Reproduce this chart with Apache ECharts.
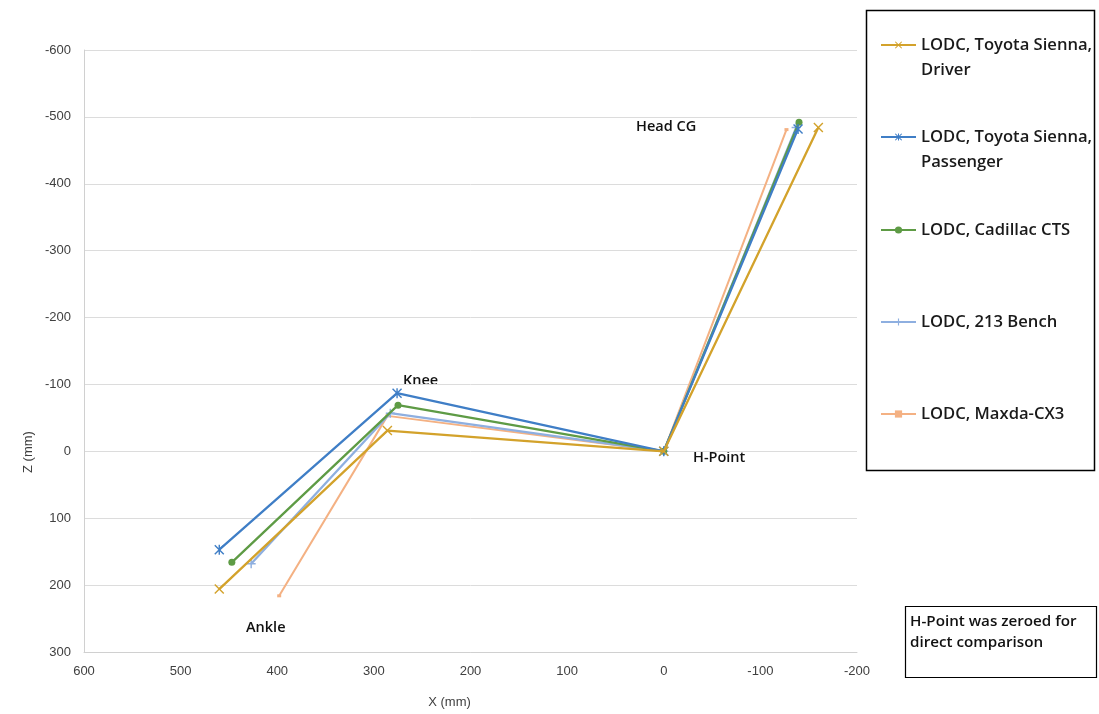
<!DOCTYPE html>
<html>
<head>
<meta charset="utf-8">
<title>LODC seating positions</title>
<script src="https://cdn.jsdelivr.net/npm/echarts@6/dist/echarts.min.js"></script>
<style>
  html, body { margin: 0; padding: 0; background: #ffffff; }
  #chart { width: 1099px; height: 714px; }
</style>
</head>
<body>
<div id="chart"></div>
<script>
// Landmark points per seat: Ankle, Knee, H-Point, Head CG — [X (mm), Z (mm)]
const driver    = [[460, 206], [286, -31], [0, 0], [-160, -484]];
const passenger = [[460, 147], [276, -87], [0, 0], [-139, -482]];
const cadillac  = [[447, 166], [275, -69], [0, 0], [-140, -492]];
const bench213  = [[427, 168], [283, -57], [0, 0], [-137, -484]];
const maxda     = [[398, 216], [286, -53], [0, 0], [-127, -481]];

const seriesNames = [
  'LODC, Toyota Sienna, Driver',
  'LODC, Toyota Sienna, Passenger',
  'LODC, Cadillac CTS',
  'LODC, 213 Bench',
  'LODC, Maxda-CX3'
];
const legendLines = [
  ['LODC, Toyota Sienna,', 'Driver'],
  ['LODC, Toyota Sienna,', 'Passenger'],
  ['LODC, Cadillac CTS'],
  ['LODC, 213 Bench'],
  ['LODC, Maxda-CX3']
];
const xTicks = { min: -200, max: 600, step: 100 };
const zTicks = { min: -600, max: 300, step: 100 };
const landmarkLabels = ['Ankle', 'Knee', 'H-Point', 'Head CG'];
const noteText = 'H-Point was zeroed for\ndirect comparison';

// Marker shapes
const X_PATH = 'path://M0,1L1,0L5,4L9,0L10,1L6,5L10,9L9,10L5,6L1,10L0,9L4,5Z';
const STAR_PATH = 'path://M0,1L1,0L5,4L9,0L10,1L6,5L10,9L9,10L5,6L1,10L0,9L4,5ZM4.3,0L5.7,0L5.7,10L4.3,10Z';
const PLUS_PATH = 'path://M4.2,0L5.8,0L5.8,4.2L10,4.2L10,5.8L5.8,5.8L5.8,10L4.2,10L4.2,5.8L0,5.8L0,4.2L4.2,4.2Z';
const DASH_PATH = 'path://M0,0L10,0L10,6L0,6Z';

const colors = ['#D3A22B', '#3F7EC6', '#5E9B45', '#8EAFE0', '#F4B183'];
const datasets = [driver, passenger, cadillac, bench213, maxda];
const symbols = [X_PATH, STAR_PATH, 'circle', PLUS_PATH, DASH_PATH];
const symbolSizes = [10, 10, 7, 9, [4, 3]];
const lineWidths = [2.3, 2.3, 2.3, 2.3, 2];

const FONT = '"Liberation Sans Narrow", "Liberation Sans", Arial, sans-serif';
const LEGEND_FONT = '"Open Sans", "Liberation Sans", sans-serif';

const series = datasets.map((d, i) => ({
  name: seriesNames[i],
  type: 'line',
  data: d,
  symbol: symbols[i],
  symbolSize: symbolSizes[i],
  showAllSymbol: true,
  color: colors[i],
  lineStyle: { width: lineWidths[i], color: colors[i] },
  itemStyle: { color: colors[i] },
  z: 10 - i,
  animation: false
}));

// One legend block per series so each entry sits at its own row;
// two-line entries get a blank leading line so the icon lines up with the first line
const legendRowsY = [45, 137, 230, 322, 414];
const legends = seriesNames.map((name, i) => {
  const lines = legendLines[i];
  const twoLine = lines.length > 1;
  return {
    data: [name],
    orient: 'vertical',
    left: 880,
    top: twoLine ? legendRowsY[i] - 37.5 : legendRowsY[i] - 12.5,
    itemWidth: 35,
    itemHeight: 9,
    itemGap: 0,
    padding: 0,
    selectedMode: false,
    formatter: () => (twoLine ? ' \n' : '') + lines.join('\n'),
    textStyle: {
      fontFamily: LEGEND_FONT,
      fontSize: 16.6,
      fontWeight: 600,
      color: '#1a1a1a',
      lineHeight: 25
    }
  };
});

const textStyle = (x, y, text, extra) => Object.assign({
  type: 'text',
  x: x,
  y: y,
  style: Object.assign({
    text: text,
    fontFamily: LEGEND_FONT,
    fontSize: 14.5,
    fontWeight: 600,
    fill: '#111111',
    verticalAlign: 'middle'
  }, extra || {})
});

const chart = echarts.init(document.getElementById('chart'), null, { renderer: 'canvas' });
chart.setOption({
  backgroundColor: '#ffffff',
  animation: false,
  grid: { left: 84, right: 242, top: 50, bottom: 62, containLabel: false },
  xAxis: {
    type: 'value',
    inverse: true,
    min: xTicks.min,
    max: xTicks.max,
    interval: xTicks.step,
    name: 'X (mm)',
    nameLocation: 'middle',
    nameGap: 44,
    nameTextStyle: { fontFamily: FONT, fontSize: 13, color: '#404040', padding: [0, 42, 0, 0] },
    axisLine: { onZero: false, lineStyle: { color: '#d0d0d0', width: 1 } },
    axisTick: { show: false },
    axisLabel: { fontFamily: FONT, fontSize: 13, color: '#404040', margin: 13 },
    splitLine: { show: false }
  },
  yAxis: {
    type: 'value',
    inverse: true,
    min: zTicks.min,
    max: zTicks.max,
    interval: zTicks.step,
    axisLine: { show: true, onZero: false, lineStyle: { color: '#d0d0d0', width: 1 } },
    axisTick: { show: false },
    axisLabel: { fontFamily: FONT, fontSize: 13, color: '#404040', margin: 13 },
    splitLine: { show: true, lineStyle: { color: '#dcdcdc', width: 1 } }
  },
  legend: legends,
  series: series,
  graphic: [
    {
      type: 'rect',
      shape: { x: 866.5, y: 10.5, width: 228, height: 460 },
      style: { fill: 'none', stroke: '#000000', lineWidth: 1.5 }
    },
    {
      type: 'rect',
      shape: { x: 905.5, y: 606.5, width: 191, height: 71 },
      style: { fill: 'none', stroke: '#000000', lineWidth: 1.2 }
    },
    textStyle(910, 632, noteText, { fontSize: 15.2, lineHeight: 21 }),
    {
      type: 'text',
      x: 28,
      y: 452,
      rotation: Math.PI / 2,
      style: {
        text: 'Z (mm)',
        fontFamily: FONT,
        fontSize: 13,
        fill: '#404040',
        align: 'center',
        verticalAlign: 'middle'
      }
    },
    textStyle(246, 628, landmarkLabels[0]),
    textStyle(403, 381, landmarkLabels[1]),
    textStyle(693, 458, landmarkLabels[2]),
    textStyle(636, 127, landmarkLabels[3])
  ]
});
</script>
</body>
</html>
